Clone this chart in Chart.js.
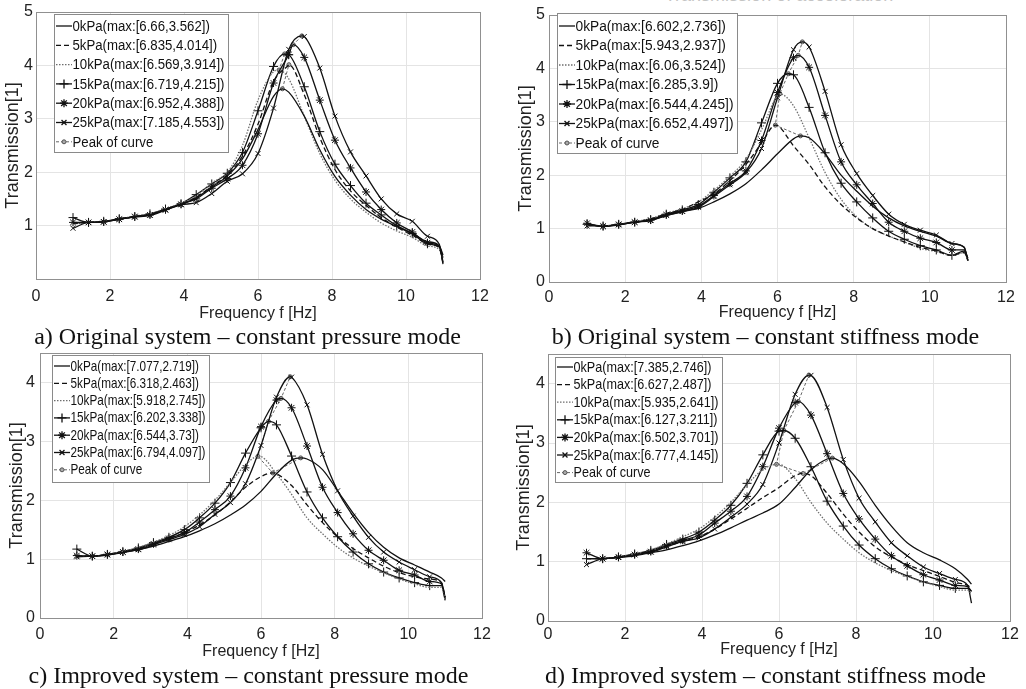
<!DOCTYPE html>
<html>
<head>
<meta charset="utf-8">
<script src="https://cdn.jsdelivr.net/npm/chart.js@4.4.1/dist/chart.umd.min.js"></script>
<style>
  body { margin: 0; background: #fff; width: 1026px; height: 689px; overflow: hidden; position: relative; }
  canvas { position: absolute; }
  .cap { position: absolute; width: 513px; text-align: center; font: 24px/24px "Liberation Serif", "Times New Roman", serif; color: #111; white-space: nowrap; }
  .top-title { position: absolute; left: 579px; top: -14px; width: 400px; text-align: center; font: 18px/18px "Liberation Sans", Arial, sans-serif; color: #c4c4c4; white-space: nowrap; }
</style>
</head>
<body>
<div class="top-title">Transmission of acceleration</div>
<canvas id="pa" width="513" height="325" style="left:0;top:0"></canvas>
<canvas id="pb" width="513" height="325" style="left:513px;top:0"></canvas>
<canvas id="pc" width="513" height="325" style="left:0;top:340px"></canvas>
<canvas id="pd" width="513" height="325" style="left:513px;top:340px"></canvas>
<div class="cap" style="left:-9px;top:324px">a) Original system – constant pressure mode</div>
<div class="cap" style="left:509px;top:324px">b) Original system – constant stiffness mode</div>
<div class="cap" style="left:-8px;top:663px">c) Improved system – constant pressure mode</div>
<div class="cap" style="left:509px;top:663px">d) Improved system – constant stiffness mode</div>
<script>
// frequency grid (Hz), markers sit on every point up to 10.58
const freq = [1, 1.42, 1.83, 2.25, 2.67, 3.08, 3.5, 3.92, 4.33, 4.75, 5.17, 5.58, 6, 6.42, 6.83, 7.25, 7.67, 8.08, 8.5, 8.92, 9.33, 9.75, 10.17, 10.58, 10.9, 11];
const pressures = [0, 5, 10, 15, 20, 25];

// a) original system - constant pressure
const a0 = [1.05,1.06,1.07,1.12,1.17,1.2,1.3,1.4,1.52,1.72,1.93,2.25,2.8,3.42,3.5,3.05,2.42,1.92,1.57,1.3,1.12,0.98,0.85,0.7,0.62,0.3];
const a5 = [1.04,1.06,1.07,1.12,1.17,1.21,1.31,1.4,1.53,1.74,1.95,2.3,2.9,3.7,4.01,3.45,2.65,2.05,1.65,1.38,1.15,0.97,0.82,0.66,0.58,0.32];
const a10 = [1.03,1.06,1.07,1.12,1.18,1.22,1.32,1.42,1.56,1.8,2.0,2.5,3.35,3.88,3.75,3.05,2.35,1.85,1.5,1.25,1.05,0.9,0.78,0.62,0.55,0.35];
const a15 = [1.15,1.06,1.08,1.13,1.17,1.22,1.31,1.41,1.58,1.78,1.98,2.37,3.15,3.98,4.2,3.6,2.76,2.15,1.75,1.42,1.2,1.0,0.85,0.66,0.6,0.4];
const a20 = [1.06,1.06,1.07,1.12,1.17,1.2,1.3,1.4,1.5,1.7,1.88,2.13,2.72,3.67,4.2,4.15,3.35,2.6,2.08,1.63,1.3,1.05,0.88,0.68,0.62,0.45];
const a25 = [0.95,1.06,1.07,1.12,1.16,1.19,1.29,1.39,1.43,1.6,1.83,1.97,2.35,3.2,4.3,4.54,3.95,3.05,2.38,1.93,1.5,1.22,1.08,0.8,0.65,0.28];
const peaksA = [[6.66,3.562],[6.835,4.014],[6.569,3.914],[6.719,4.215],[6.952,4.388],[7.185,4.553]];

// b) original system - constant stiffness
const b0 = [1.08,1.04,1.07,1.12,1.16,1.24,1.32,1.38,1.5,1.65,1.84,2.1,2.4,2.68,2.7,2.4,2.0,1.7,1.42,1.2,1.05,0.95,0.86,0.72,0.65,0.4];
const b5 = [1.07,1.05,1.08,1.13,1.18,1.28,1.36,1.5,1.65,1.9,2.2,2.6,2.93,2.55,2.2,1.78,1.45,1.2,1.0,0.86,0.75,0.65,0.58,0.5,0.55,0.42];
const b10 = [1.06,1.05,1.08,1.13,1.19,1.29,1.37,1.5,1.72,1.98,2.3,2.85,3.5,3.3,2.7,2.05,1.55,1.22,1.0,0.86,0.75,0.63,0.57,0.5,0.55,0.4];
const b15 = [1.08,1.05,1.08,1.12,1.17,1.27,1.35,1.45,1.68,1.95,2.25,2.98,3.72,3.88,3.27,2.42,1.85,1.5,1.2,0.95,0.8,0.68,0.6,0.5,0.58,0.4];
const b20 = [1.1,1.04,1.08,1.12,1.16,1.26,1.33,1.42,1.62,1.85,2.08,2.65,3.55,4.2,4.02,3.12,2.25,1.82,1.47,1.12,0.95,0.82,0.74,0.6,0.6,0.45];
const b25 = [1.05,1.05,1.07,1.12,1.15,1.25,1.32,1.4,1.6,1.82,2.05,2.5,3.45,4.35,4.4,3.57,2.57,2.03,1.62,1.27,1.08,0.97,0.88,0.72,0.65,0.4];
const peaksB = [[6.602,2.736],[5.943,2.937],[6.06,3.524],[6.285,3.9],[6.544,4.245],[6.652,4.497]];

// c) improved system - constant pressure
const c0 = [1.05,1.05,1.07,1.11,1.16,1.22,1.3,1.38,1.48,1.6,1.75,1.92,2.15,2.45,2.68,2.7,2.52,2.16,1.78,1.45,1.2,1.02,0.9,0.78,0.68,0.62];
const c5 = [1.05,1.05,1.08,1.12,1.18,1.26,1.35,1.45,1.58,1.75,1.97,2.22,2.4,2.45,2.25,1.92,1.62,1.38,1.18,1.02,0.88,0.77,0.7,0.66,0.6,0.35];
const c10 = [1.05,1.05,1.08,1.13,1.2,1.29,1.4,1.55,1.75,2.0,2.3,2.6,2.74,2.45,2.1,1.7,1.43,1.2,1.02,0.88,0.77,0.66,0.58,0.52,0.52,0.3];
const c15 = [1.17,1.05,1.08,1.13,1.19,1.28,1.37,1.5,1.7,1.95,2.3,2.8,3.23,3.28,2.75,2.14,1.7,1.38,1.12,0.92,0.78,0.68,0.6,0.55,0.55,0.3];
const c20 = [1.06,1.05,1.08,1.12,1.17,1.26,1.35,1.45,1.63,1.84,2.07,2.55,3.25,3.7,3.57,2.92,2.22,1.79,1.43,1.15,0.98,0.81,0.73,0.62,0.58,0.32];
const c25 = [1.04,1.05,1.07,1.12,1.16,1.24,1.33,1.42,1.55,1.76,1.96,2.28,2.93,3.75,4.09,3.62,2.78,2.16,1.73,1.37,1.12,0.95,0.82,0.7,0.6,0.35];
const peaksC = [[7.077,2.719],[6.318,2.463],[5.918,2.745],[6.202,3.338],[6.544,3.73],[6.794,4.097]];

// d) improved system - constant stiffness
const d0 = [1.05,1.05,1.07,1.1,1.15,1.2,1.27,1.35,1.45,1.57,1.7,1.82,1.97,2.25,2.55,2.73,2.65,2.35,1.95,1.6,1.32,1.15,1.03,0.88,0.7,0.62];
const d5 = [1.05,1.05,1.08,1.12,1.18,1.26,1.34,1.42,1.55,1.72,1.9,2.08,2.25,2.45,2.45,2.15,1.8,1.5,1.25,1.08,0.95,0.85,0.75,0.65,0.6,0.55];
const d10 = [1.05,1.05,1.08,1.13,1.2,1.3,1.42,1.55,1.75,2.0,2.3,2.55,2.64,2.4,2.0,1.65,1.38,1.15,0.98,0.85,0.75,0.66,0.58,0.52,0.52,0.45];
const d15 = [1.05,1.05,1.08,1.13,1.19,1.29,1.38,1.5,1.7,1.95,2.32,2.8,3.2,3.08,2.6,2.02,1.6,1.28,1.05,0.88,0.76,0.66,0.6,0.55,0.55,0.5];
const d20 = [1.15,1.05,1.08,1.12,1.17,1.27,1.36,1.45,1.65,1.85,2.1,2.6,3.25,3.68,3.47,2.82,2.15,1.72,1.38,1.1,0.93,0.78,0.69,0.6,0.58,0.5];
const d25 = [0.95,1.05,1.07,1.12,1.16,1.25,1.34,1.4,1.55,1.75,1.97,2.3,3.0,3.82,4.14,3.6,2.72,2.07,1.67,1.32,1.1,0.91,0.8,0.7,0.6,0.3];
const peaksD = [[7.385,2.746],[6.627,2.487],[5.935,2.641],[6.127,3.211],[6.502,3.701],[6.777,4.145]];

const FONT = '"Liberation Sans", Arial, sans-serif';

const lineStyles = [
  { color: '#111', dash: [], marker: null },
  { color: '#111', dash: [5, 3], marker: null },
  { color: '#6e6e6e', dash: [1.5, 1.5], marker: null },
  { color: '#111', dash: [], marker: 'cross', r: 4.5 },
  { color: '#111', dash: [], marker: 'star', r: 4 },
  { color: '#111', dash: [], marker: 'crossRot', r: 3.5 }
];

function withPeak(ys, pk) {
  const pts = freq.map((f, i) => ({ x: f, y: ys[i], m: f < 10.7 }));
  pts.push({ x: pk[0], y: pk[1], m: false });
  return pts.sort((p, q) => p.x - q.x);
}

// axes box like matlab
const boxPlugin = {
  id: 'box',
  afterDatasetsDraw(chart) {
    const a = chart.chartArea, ctx = chart.ctx;
    ctx.save();
    ctx.strokeStyle = '#909090';
    ctx.lineWidth = 1;
    ctx.strokeRect(Math.round(a.left) + 0.5, Math.round(a.top) + 0.5, Math.round(a.right - a.left), Math.round(a.bottom - a.top));
    ctx.restore();
  }
};

// legend drawn inside the axes, text squeezed sideways like the original
const insideLegend = {
  id: 'insideLegend',
  afterDraw(chart, args, o) {
    const ctx = chart.ctx;
    const labels = chart.data.datasets.map(ds => ds.label);
    ctx.save();
    ctx.fillStyle = '#fff';
    ctx.fillRect(o.x, o.y, o.w, o.h);
    ctx.strokeStyle = '#8a8a8a';
    ctx.lineWidth = 1;
    ctx.strokeRect(o.x + 0.5, o.y + 0.5, o.w, o.h);
    ctx.font = o.size + 'px ' + FONT;
    const widest = Math.max(...labels.map(t => ctx.measureText(t).width));
    const sx = Math.min(1, (o.w - 22) / widest);
    ctx.textBaseline = 'middle';
    chart.data.datasets.forEach((ds, i) => {
      const cy = o.y + o.first + i * o.row;
      const x0 = o.x + 2, x1 = o.x + 18;
      ctx.strokeStyle = ds.borderColor;
      ctx.lineWidth = ds.borderWidth;
      ctx.setLineDash(ds.borderDash || []);
      ctx.beginPath(); ctx.moveTo(x0, cy); ctx.lineTo(x1, cy); ctx.stroke();
      ctx.setLineDash([]);
      if (ds.legendMarker) {
        ctx.strokeStyle = ds.pointBorderColor;
        ctx.fillStyle = ds.legendFill || ds.pointBorderColor;
        Chart.helpers.drawPoint(ctx, { pointStyle: ds.legendMarker, radius: ds.markerR, borderWidth: 1, rotation: 0 }, (x0 + x1) / 2, cy);
      }
      ctx.save();
      ctx.translate(x1 + 0.5, cy + 0.5);
      ctx.scale(sx, 1);
      ctx.fillStyle = '#111';
      ctx.fillText(ds.label, 0, 0);
      ctx.restore();
    });
    ctx.restore();
  }
};

function makePanel(id, p) {
  const datasets = p.curves.map((ys, i) => {
    const st = lineStyles[i];
    return {
      label: pressures[i] + 'kPa(max:[' + p.peaks[i][0] + ',' + p.peaks[i][1] + '])',
      data: withPeak(ys, p.peaks[i]),
      borderColor: st.color,
      borderWidth: 1.3,
      borderDash: st.dash,
      cubicInterpolationMode: 'monotone',
      pointStyle: st.marker || 'circle',
      pointRadius: c => (st.marker && c.raw && c.raw.m) ? st.r : 0,
      pointBorderColor: '#111',
      pointBackgroundColor: '#111',
      pointBorderWidth: 1,
      legendMarker: st.marker,
      markerR: st.r
    };
  });
  datasets.push({
    label: 'Peak of curve',
    data: p.peaks.map(k => ({ x: k[0], y: k[1] })),
    borderColor: '#666',
    borderWidth: 1,
    borderDash: [3, 2],
    tension: 0,
    pointStyle: 'circle',
    pointRadius: 2,
    pointBackgroundColor: '#aaa',
    pointBorderColor: '#555',
    pointBorderWidth: 1,
    legendMarker: 'circle',
    legendFill: '#aaa',
    markerR: 2
  });

  new Chart(document.getElementById(id), {
    type: 'line',
    data: { datasets: datasets },
    options: {
      responsive: false,
      animation: false,
      devicePixelRatio: 1,
      layout: { padding: { left: 0, right: p.padR, top: p.padT, bottom: 0 } },
      plugins: {
        legend: { display: false },
        tooltip: { enabled: false },
        insideLegend: p.legend
      },
      scales: {
        x: {
          type: 'linear', min: 0, max: 12,
          afterFit: s => { s.height = p.xH; s.paddingLeft = 0; s.paddingRight = 0; },
          ticks: { stepSize: 2, padding: p.xTickPad, color: '#222', font: { family: FONT, size: 16 } },
          grid: { color: '#e4e4e4', drawTicks: false },
          border: { display: false },
          title: { display: true, text: 'Frequency f [Hz]', color: '#222', font: { family: FONT, size: 16 }, padding: { top: 0, bottom: p.xTitlePad } }
        },
        y: {
          type: 'linear', min: 0, max: p.yMax,
          afterFit: s => { s.width = p.yW; s.paddingTop = 0; s.paddingBottom = 0; },
          ticks: {
            stepSize: 1, includeBounds: false, padding: p.yTickPad, color: '#222', font: { family: FONT, size: 16 },
            callback: v => (p.hideZero && v === 0) ? '' : v
          },
          grid: { color: '#e4e4e4', drawTicks: false },
          border: { display: false },
          title: { display: true, text: 'Transmission[1]', color: '#222', font: { family: FONT, size: 18 }, padding: { top: p.yTitlePad, bottom: 0 } }
        }
      }
    },
    plugins: [boxPlugin, insideLegend]
  });
}

makePanel('pa', {
  curves: [a0, a5, a10, a15, a20, a25], peaks: peaksA, yMax: 5, hideZero: true,
  padR: 33, padT: 12, yW: 36, xH: 46, xTickPad: 8, xTitlePad: 1.4, yTickPad: 3, yTitlePad: 2.7,
  legend: { x: 54, y: 14, w: 174, h: 138, first: 12, row: 19.3, size: 15.5 }
});
makePanel('pb', {
  curves: [b0, b5, b10, b15, b20, b25], peaks: peaksB, yMax: 5, hideZero: false,
  padR: 20, padT: 15, yW: 36, xH: 43, xTickPad: 6.4, xTitlePad: 2.4, yTickPad: 4, yTitlePad: 2.7,
  legend: { x: 44, y: 13, w: 180, h: 140, first: 13, row: 19.5, size: 15.5 }
});
makePanel('pc', {
  curves: [c0, c5, c10, c15, c20, c25], peaks: peaksC, yMax: 4.5, hideZero: false,
  padR: 31, padT: 13, yW: 40, xH: 47, xTickPad: 7.4, xTitlePad: 3.7, yTickPad: 5, yTitlePad: 6.7,
  legend: { x: 52, y: 15, w: 157, h: 127, first: 11, row: 17.3, size: 14.5 }
});
makePanel('pd', {
  curves: [d0, d5, d10, d15, d20, d25], peaks: peaksD, yMax: 4.5, hideZero: false,
  padR: 16, padT: 14, yW: 35, xH: 44, xTickPad: 4.4, xTitlePad: 5.7, yTickPad: 3, yTitlePad: 0,
  legend: { x: 42, y: 17, w: 167, h: 125, first: 10, row: 17.6, size: 14.5 }
});
</script>
</body>
</html>
